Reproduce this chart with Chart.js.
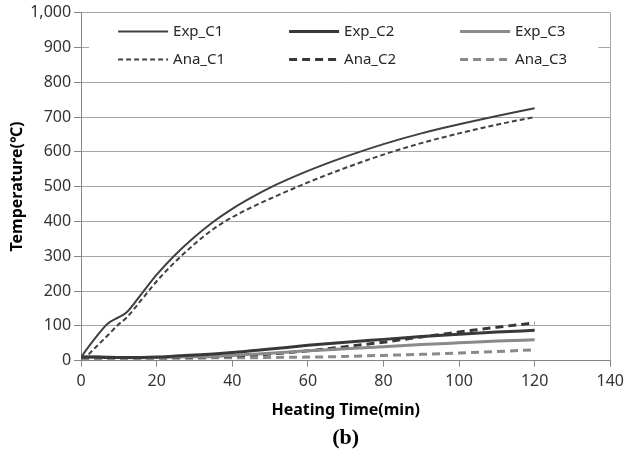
<!DOCTYPE html>
<html lang="en">
<head>
  <meta charset="UTF-8" />
  <title>Temperature vs heating time (b)</title>
  <script src="https://cdn.jsdelivr.net/npm/chart.js"></script>
  <style>
    html, body { margin: 0; padding: 0; background: #fff; }
    #wrap { width: 629px; height: 457px; }
  </style>
</head>
<body>
  <div id="wrap"><canvas id="grafico"></canvas></div>

  <script>
    // heating time (min)
    const minutes = [0, 2, 4, 7, 10, 12, 16, 20, 25, 30, 35, 40, 45, 50, 60, 70, 80, 90, 100, 110, 120];

    // temperatures (°C)
    const expC1 = [10, 40, 68, 106, 125, 138, 192, 247, 305, 355, 399, 436, 468, 497, 545, 586, 622, 653, 679, 703, 725];
    const expC2 = [10, 10, 10, 9, 9, 9, 9, 10, 13, 16, 19, 23, 28, 33, 44, 53, 61, 69, 76, 82, 87];
    const expC3 = [10, 10, 10, 10, 9, 9, 8, 9, 10, 11, 12, 15, 18, 21, 28, 34, 40, 46, 51, 56, 60];
    const anaC1 = [null, 18, 40, 72, 105, 123, 175, 228, 285, 335, 378, 412, 440, 465, 512, 554, 592, 625, 653, 678, 700];
    const anaC2 = [8, 8, 8, 8, 8, 8, 8, 8, 9, 10, 11, 13, 16, 19, 28, 40, 53, 68, 82, 96, 108];
    const anaC3 = [7, 7, 7, 7, 7, 7, 7, 7, 7, 7, 8, 8, 8, 9, 10, 12, 15, 18, 22, 26, 31];

    const seriesNames = ['Exp_C1', 'Exp_C2', 'Exp_C3', 'Ana_C1', 'Ana_C2', 'Ana_C3'];
    const seriesValues = [expC1, expC2, expC3, anaC1, anaC2, anaC3];

    const xTicks = [0, 20, 40, 60, 80, 100, 120, 140];
    const yTicks = [0, 100, 200, 300, 400, 500, 600, 700, 800, 900, 1000];

    const estilos = [
      { color: '#404040', width: 2, dash: [] },
      { color: '#383838', width: 3, dash: [] },
      { color: '#8a8a8a', width: 3, dash: [] },
      { color: '#404040', width: 2, dash: [5, 3] },
      { color: '#383838', width: 3, dash: [8, 5] },
      { color: '#8a8a8a', width: 3, dash: [8, 5] }
    ];

    const datasets = seriesNames.map((name, i) => ({
      label: name,
      data: minutes.map((t, k) => ({ x: t, y: seriesValues[i][k] })),
      borderColor: estilos[i].color,
      backgroundColor: estilos[i].color,
      borderWidth: estilos[i].width,
      borderDash: estilos[i].dash,
      pointRadius: 0,
      cubicInterpolationMode: 'monotone',
      fill: false
    }));

    // legend drawn inside the plot, on a white box (like the Excel original)
    const leyendaDentro = {
      id: 'leyendaDentro',
      afterDatasetsDraw(chart) {
        const { ctx, chartArea } = chart;
        ctx.save();
        ctx.fillStyle = '#fff';
        ctx.fillRect(chartArea.left + 8, chartArea.top + 6, chartArea.width - 20, 54);
        ctx.font = '15px "Noto Sans"';
        ctx.textBaseline = 'middle';
        ctx.textAlign = 'left';
        chart.data.datasets.forEach((ds, i) => {
          const x = chartArea.left + 37 + (i % 3) * 171;
          const y = chartArea.top + 19 + Math.floor(i / 3) * 28;
          ctx.strokeStyle = ds.borderColor;
          ctx.lineWidth = ds.borderWidth;
          ctx.setLineDash(ds.borderDash);
          ctx.beginPath();
          ctx.moveTo(x, y);
          ctx.lineTo(x + 50, y);
          ctx.stroke();
          ctx.fillStyle = '#262626';
          ctx.fillText(ds.label, x + 55, y);
        });
        ctx.restore();
      }
    };

    new Chart(document.getElementById('grafico'), {
      type: 'line',
      data: { datasets: datasets },
      plugins: [leyendaDentro],
      options: {
        responsive: true,
        maintainAspectRatio: false,
        animation: false,
        layout: { padding: { top: 8, right: 14, left: 8, bottom: 8 } },
        plugins: {
          legend: { display: false },
          tooltip: { enabled: false },
          title: {
            display: true,
            text: '(b)',
            position: 'bottom',
            fullSize: false,
            color: '#000',
            font: { family: '"Liberation Serif"', size: 22, weight: 'bold', lineHeight: 1 },
            padding: { top: 7, bottom: 0 }
          }
        },
        scales: {
          x: {
            type: 'linear',
            min: 0,
            max: 140,
            afterBuildTicks: axis => { axis.ticks = xTicks.map(v => ({ value: v })); },
            grid: {
              color: ctx => (ctx.tick && ctx.tick.value === 140 ? '#a6a6a6' : 'rgba(0,0,0,0)'),
              tickColor: '#868686',
              tickLength: 6
            },
            border: { color: '#868686' },
            ticks: { color: '#333', font: { family: '"Noto Sans"', size: 16 }, padding: 5, maxRotation: 0 },
            title: {
              display: true,
              text: 'Heating Time(min)',
              color: '#000',
              font: { family: '"Noto Sans"', size: 16, weight: 'bold' },
              padding: { top: 5, bottom: 0 }
            }
          },
          y: {
            min: 0,
            max: 1000,
            afterBuildTicks: axis => { axis.ticks = yTicks.map(v => ({ value: v })); },
            grid: { color: '#a6a6a6', tickColor: '#868686', tickLength: 7 },
            border: { color: '#868686' },
            ticks: { color: '#333', font: { family: '"Noto Sans"', size: 16 }, padding: 3 },
            title: {
              display: true,
              text: 'Temperature(℃)',
              color: '#000',
              font: { family: '"Noto Sans"', size: 16, weight: 'bold' },
              padding: { top: 0, bottom: 0 }
            }
          }
        }
      }
    });
  </script>
</body>
</html>
